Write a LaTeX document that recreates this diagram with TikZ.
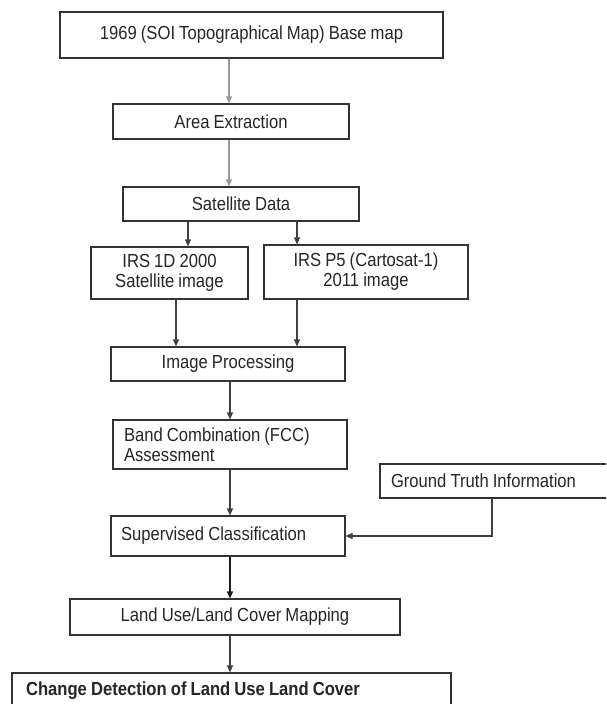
\documentclass[tikz,border=0pt]{standalone}
\usepackage{fontspec}
\setmainfont{Liberation Sans}[FakeStretch=0.88, WordSpace=0.88]
\usetikzlibrary{arrows.meta}
\newcommand{\lft}[2]{\makebox[#1pt][l]{#2}}
\begin{document}
\begin{tikzpicture}[x=1pt,y=-1pt,
  box/.style={draw=black!80, line width=1.1pt, inner sep=0pt, text=black!85,
    font=\fontsize{18.9}{20}\selectfont, align=center},
  lbox/.style={box, align=left},
  arr/.style={line width=1.1pt, draw=black!75, -{Triangle[length=7pt,width=6pt]}},
  garr/.style={arr, draw=black!40}]
\useasboundingbox (0,0) rectangle (606,704);
\clip (0,0) rectangle (606,704);
\fill[white] (0,0) rectangle (606,704);
\node[box, minimum width=383, minimum height=46] (b1) at (251.5,35) {1969 (SOI Topographical Map) Base map};
\node[box, minimum width=236, minimum height=35] (b2) at (231,121.5) {Area Extraction};
\node[box, minimum width=236, minimum height=34] (b3) at (241,204) {Satellite Data};
\node[box, minimum width=157, minimum height=52] (b4) at (169.5,273) {IRS 1D 2000\\Satellite image};
\node[box, minimum width=204, minimum height=54] (b5) at (366,272) {IRS P5 (Cartosat-1)\\2011 image};
\node[box, minimum width=234, minimum height=34] (b6) at (228,364) {Image Processing};
\node[lbox, minimum width=234, minimum height=49] (b7) at (230,444.5) {\lft{212}{Band Combination (FCC)}\\\lft{212}{Assessment}};
\node[lbox, minimum width=234, minimum height=40] (b8) at (228,536) {\lft{214}{Supervised Classification}};
\node[lbox, minimum width=240, minimum height=34] (gt) at (500,481) {\lft{218}{Ground Truth Information}};
\node[box, minimum width=330, minimum height=36] (b9) at (235,617) {Land Use/Land Cover Mapping};
\node[lbox, minimum width=439, minimum height=36, font=\fontsize{18.9}{20}\selectfont\bfseries] (b10) at (231.5,691) {\lft{411}{Change Detection of Land Use Land Cover}};
\coordinate (xa) at (229,0);
\coordinate (xl) at (188,0);
\coordinate (xr) at (297,0);
\coordinate (xm) at (176,0);
\coordinate (xc) at (230,0);
\coordinate (xg) at (492,0);
\draw[garr] (b1.south -| xa) -- (b2.north -| xa);
\draw[garr] (b2.south -| xa) -- (b3.north -| xa);
\draw[arr] (b3.south -| xl) -- (b4.north -| xl);
\draw[arr] (b3.south -| xr) -- (b5.north -| xr);
\draw[arr] (b4.south -| xm) -- (b6.north -| xm);
\draw[arr] (b5.south -| xr) -- (b6.north -| xr);
\draw[arr] (b6.south -| xc) -- (b7.north -| xc);
\draw[arr] (b7.south -| xc) -- (b8.north -| xc);
\draw[arr, draw=black!90] (b8.south -| xc) -- (b9.north -| xc);
\draw[arr] (b9.south -| xc) -- (b10.north -| xc);
\draw[arr] (gt.south -| xg) |- (b8.east);
\end{tikzpicture}
\end{document}
